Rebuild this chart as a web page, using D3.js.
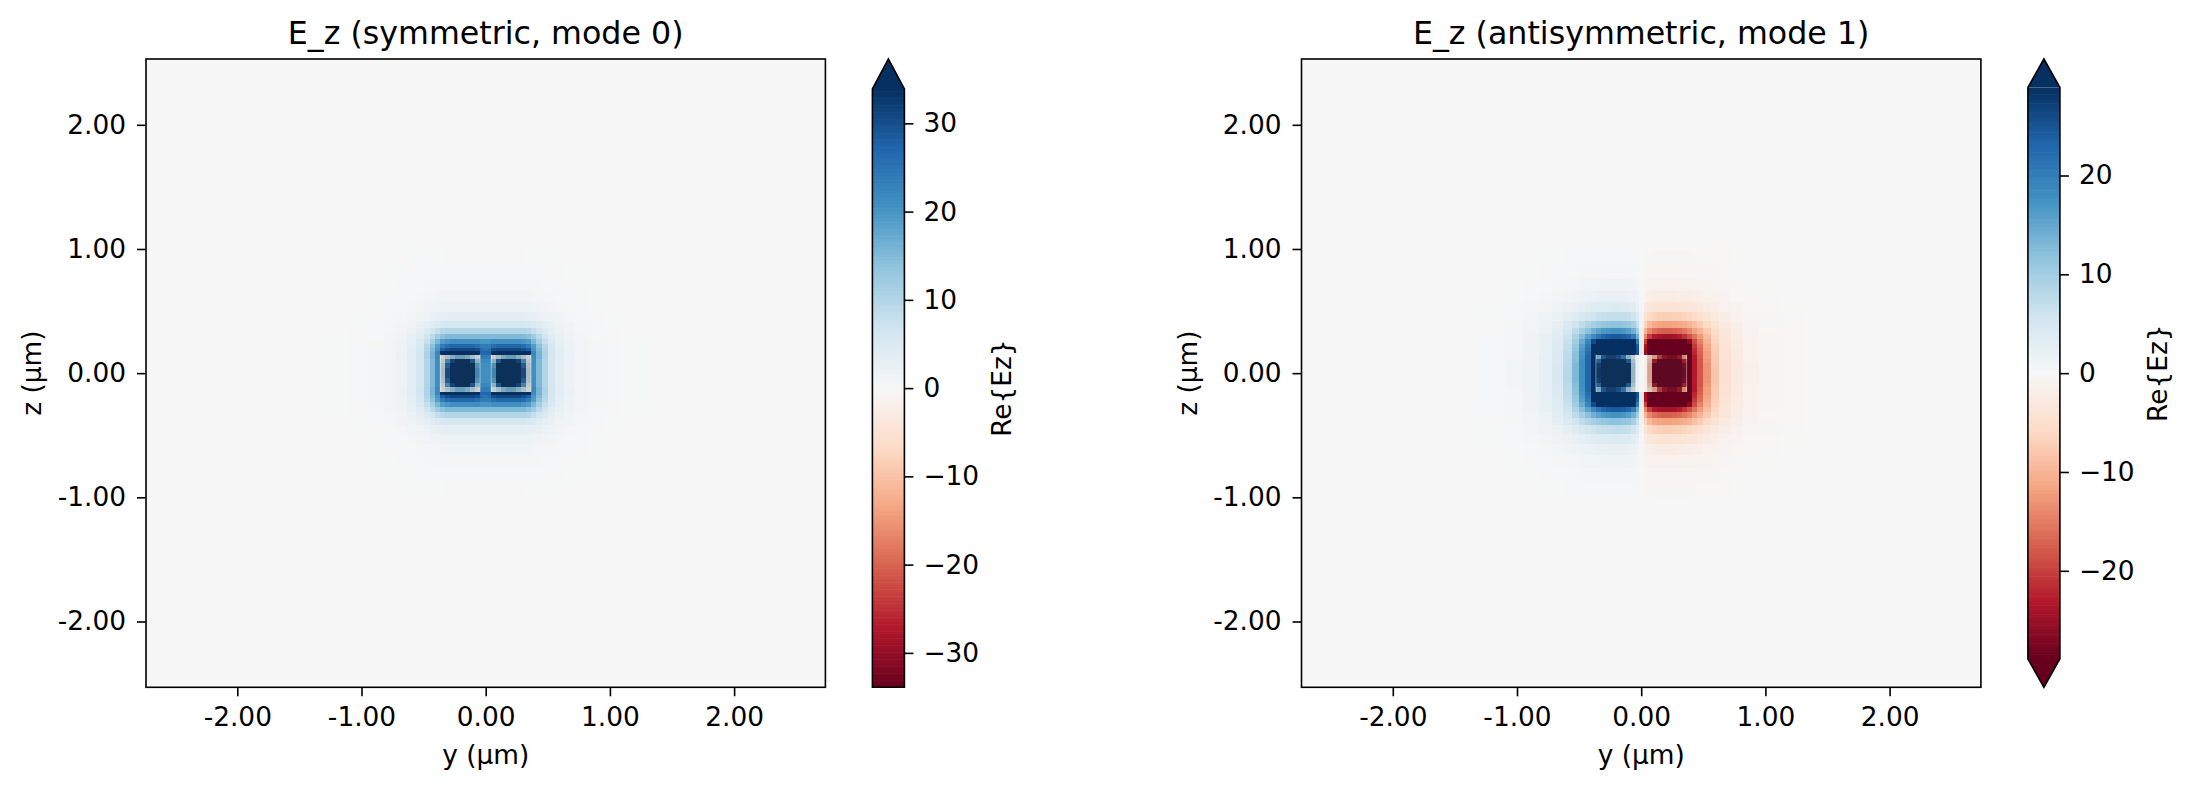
<!DOCTYPE html>
<html>
<head>
<meta charset="utf-8">
<script src="https://cdn.jsdelivr.net/npm/d3@7"></script>
<style>
  body { margin: 0; background: #fff; }
  text { font-family: "DejaVu Sans", sans-serif; fill: #000; }
</style>
</head>
<body>
<svg id="chart"></svg>
<script>
// grid cell edges of one quadrant (y >= 0, z >= 0), in µm
const yEdges = [0, 0.02, 0.045, 0.085, 0.125, 0.165, 0.205, 0.245, 0.285, 0.325, 0.365,
                0.405, 0.45, 0.5, 0.56, 0.63, 0.72, 0.82, 0.95, 1.1, 1.3];
const zEdges = [0, 0.04, 0.08, 0.115, 0.15, 0.175, 0.2, 0.235, 0.275, 0.315, 0.36,
                0.42, 0.49, 0.57, 0.66, 0.76, 0.88, 1.0];

// Re{Ez}, quadrant y >= 0, z >= 0 (rows = z cells, cols = y cells)
const mode0Quadrant = [
  [21, 21, 20, 40, 40, 40, 40, 40, 30, 9, 21, 15, 10, 6, 3.5, 2, 1.2, 0.6, 0.3, 0.15],
  [21, 21, 18, 38, 40, 40, 40, 38, 27, 8, 21, 15, 10, 6, 3.5, 2, 1.2, 0.6, 0.3, 0.15],
  [22, 22, 12, 28, 34, 36, 35, 31, 20, 5, 21, 15, 10, 6, 3.5, 2, 1.2, 0.6, 0.3, 0.15],
  [24, 24, 3, 9, 14, 16, 16, 13, 8, 2, 22, 16, 10.5, 6.3, 3.6, 2.1, 1.2, 0.6, 0.3, 0.15],
  [27, 27, 40, 40, 40, 40, 40, 40, 40, 38, 22, 16, 10.5, 6.3, 3.6, 2.1, 1.2, 0.6, 0.3, 0.15],
  [25, 26, 30, 31, 31, 31, 31, 31, 30, 28, 20, 15, 10, 6, 3.5, 2, 1.2, 0.6, 0.3, 0.15],
  [24, 24, 26, 27, 27, 27, 27, 27, 26, 24, 19, 14, 9.5, 5.8, 3.4, 2, 1.1, 0.55, 0.3, 0.12],
  [20, 20, 21, 21, 21, 21, 21, 21, 20, 19, 15.5, 11.5, 8, 5.2, 3.1, 1.8, 1, 0.5, 0.25, 0.1],
  [15, 15, 15, 15, 15, 15, 15, 15, 15, 14, 12, 9, 6.5, 4.3, 2.7, 1.6, 0.9, 0.45, 0.22, 0.1],
  [10, 10, 10, 10, 10, 10, 10, 10, 10, 9.5, 8.2, 6.6, 5, 3.4, 2.2, 1.3, 0.75, 0.4, 0.2, 0.08],
  [6, 6, 6, 6, 6, 6, 6, 6, 6, 5.8, 5.1, 4.3, 3.3, 2.4, 1.6, 1, 0.6, 0.3, 0.15, 0.06],
  [3.4, 3.4, 3.4, 3.4, 3.4, 3.4, 3.4, 3.4, 3.3, 3.2, 2.9, 2.5, 2, 1.5, 1.1, 0.7, 0.42, 0.22, 0.1, 0.04],
  [1.9, 1.9, 1.9, 1.9, 1.9, 1.9, 1.9, 1.9, 1.8, 1.8, 1.6, 1.4, 1.2, 0.9, 0.7, 0.45, 0.3, 0.15, 0.07, 0.03],
  [1.1, 1.1, 1.1, 1.1, 1.1, 1.1, 1.1, 1.1, 1, 1, 0.9, 0.8, 0.7, 0.55, 0.42, 0.3, 0.2, 0.1, 0.05, 0.02],
  [0.65, 0.65, 0.65, 0.65, 0.65, 0.65, 0.65, 0.65, 0.62, 0.6, 0.57, 0.52, 0.46, 0.39, 0.32, 0.25, 0.18, 0.11, 0.06, 0.02],
  [0.38, 0.38, 0.38, 0.38, 0.38, 0.38, 0.38, 0.37, 0.36, 0.35, 0.33, 0.3, 0.27, 0.23, 0.19, 0.15, 0.11, 0.07, 0.04, 0.01],
  [0.2, 0.2, 0.2, 0.2, 0.2, 0.2, 0.2, 0.2, 0.19, 0.18, 0.17, 0.16, 0.14, 0.12, 0.1, 0.08, 0.06, 0.04, 0.02, 0]
];

const mode1Quadrant = [
  [-0.5, -2, -9, -30, -40, -40, -40, -40, -40, -28, -35, -23, -18, -13, -8, -4.5, -2.6, -1.4, -0.7, -0.3],
  [-0.5, -2, -9, -29, -40, -40, -40, -40, -40, -27, -35, -23, -18, -13, -8, -4.5, -2.6, -1.4, -0.7, -0.3],
  [-0.5, -2, -7, -24, -36, -40, -40, -40, -38, -23, -35, -23, -18, -12.5, -7.8, -4.4, -2.5, -1.3, -0.7, -0.3],
  [-0.5, -2, -3, -10, -20, -25, -27, -27, -24, -12, -35, -23, -17.5, -12, -7.5, -4.3, -2.5, -1.3, -0.65, -0.3],
  [-4, -25, -40, -40, -40, -40, -40, -40, -40, -40, -35, -22, -17, -12, -7.5, -4.2, -2.4, -1.3, -0.65, -0.3],
  [-4, -25, -40, -40, -40, -40, -40, -40, -40, -40, -34, -21.5, -16.5, -11.5, -7.2, -4.1, -2.4, -1.3, -0.65, -0.3],
  [-4, -24, -38, -40, -40, -40, -40, -40, -40, -38, -31, -20.5, -16, -11, -7, -4, -2.3, -1.25, -0.6, -0.3],
  [-3.5, -20, -30, -36, -38, -38, -38, -38, -36, -32, -26, -19, -14.5, -10.2, -6.5, -3.8, -2.2, -1.2, -0.6, -0.28],
  [-3, -14, -20, -23, -24, -24.5, -24.5, -24, -23, -21, -18.5, -15.5, -12.5, -9, -6, -3.6, -2.1, -1.15, -0.55, -0.25],
  [-2.3, -10, -14, -16, -17, -17.5, -17.5, -17, -16.5, -15.5, -14, -12, -10, -7.5, -5.2, -3.2, -1.9, -1.05, -0.5, -0.22],
  [-1.6, -6.5, -9.5, -11, -11.5, -11.8, -11.8, -11.6, -11.2, -10.6, -9.8, -8.7, -7.4, -5.8, -4.2, -2.7, -1.6, -0.9, -0.45, -0.2],
  [-1, -4, -5.8, -6.6, -7, -7.2, -7.2, -7, -6.8, -6.5, -6, -5.4, -4.7, -3.8, -2.9, -1.9, -1.2, -0.7, -0.35, -0.15],
  [-0.6, -2.2, -3.3, -3.8, -4, -4.1, -4.1, -4, -3.9, -3.7, -3.5, -3.2, -2.8, -2.3, -1.8, -1.25, -0.8, -0.5, -0.25, -0.1],
  [-0.3, -1.2, -1.8, -2, -2.2, -2.25, -2.25, -2.2, -2.15, -2.05, -1.9, -1.75, -1.55, -1.3, -1.05, -0.75, -0.5, -0.3, -0.15, -0.06],
  [-0.17, -0.65, -1, -1.1, -1.2, -1.22, -1.22, -1.2, -1.17, -1.12, -1.05, -0.97, -0.87, -0.74, -0.6, -0.45, -0.3, -0.18, -0.09, -0.04],
  [-0.1, -0.35, -0.55, -0.6, -0.65, -0.66, -0.66, -0.65, -0.63, -0.6, -0.57, -0.53, -0.48, -0.41, -0.34, -0.26, -0.18, -0.11, -0.05, -0.02],
  [-0.05, -0.2, -0.3, -0.33, -0.35, -0.36, -0.36, -0.35, -0.34, -0.33, -0.31, -0.29, -0.26, -0.23, -0.19, -0.15, -0.1, -0.06, -0.03, -0.01]
];

// waveguide cross sections (µm)
const guidesY = [[-0.365, -0.045], [0.045, 0.365]];
const guideZ = [-0.15, 0.15];

const axisTicks = [-2, -1, 0, 1, 2];
const cbarTicks0 = [-30, -20, -10, 0, 10, 20, 30];
const cbarTicks1 = [-20, -10, 0, 10, 20];

const panels = [
  {title: 'E_z (symmetric, mode 0)', quad: mode0Quadrant, parity: 1, vmax: 33.9,
   extend: ['max'], cbTicks: cbarTicks0, left: 146},
  {title: 'E_z (antisymmetric, mode 1)', quad: mode1Quadrant, parity: -1, vmax: 28.9,
   extend: ['min', 'max'], cbTicks: cbarTicks1, left: 1301.5}
];

const W = 2192, H = 790;
const plotTop = 59, plotW = 679.4, plotH = 628.3;
const fs = 26.4;

// RdBu as a piecewise-linear map (like matplotlib), not the spline version
const rdbu = d3.piecewise(d3.interpolateRgb, d3.schemeRdBu[11]);

const svg = d3.select('#chart').attr('width', W).attr('height', H);

// mirror the quadrant into the full cross section
function expandQuadrant(quad, parity) {
  const cells = [];
  quad.forEach((row, i) => row.forEach((v, j) => {
    [1, -1].forEach(sy => [1, -1].forEach(sz => {
      cells.push({
        y0: sy > 0 ? yEdges[j] : -yEdges[j + 1],
        y1: sy > 0 ? yEdges[j + 1] : -yEdges[j],
        z0: sz > 0 ? zEdges[i] : -zEdges[i + 1],
        z1: sz > 0 ? zEdges[i + 1] : -zEdges[i],
        v: sy > 0 ? v : parity * v
      });
    }));
  }));
  return cells;
}

function styleAxis(g) {
  g.select('.domain').remove();
  g.selectAll('.tick line').attr('stroke', '#000').attr('stroke-width', 1.6);
  g.selectAll('.tick text').attr('font-size', fs).attr('font-family', '"DejaVu Sans", sans-serif').attr('fill', '#000');
}

panels.forEach((p, pi) => {
  const x = d3.scaleLinear().domain([-2.735, 2.735]).range([0, plotW]);
  const z = d3.scaleLinear().domain([-2.53, 2.53]).range([plotH, 0]);
  const color = d3.scaleSequential(rdbu).domain([-p.vmax, p.vmax]).clamp(true);

  const g = svg.append('g').attr('transform', `translate(${p.left},${plotTop})`);

  g.append('defs').append('clipPath').attr('id', 'clip' + pi)
    .append('rect').attr('width', plotW).attr('height', plotH);

  const field = g.append('g').attr('clip-path', `url(#clip${pi})`);
  field.append('rect')
    .attr('width', plotW).attr('height', plotH)
    .attr('fill', color(0));

  field.selectAll('.cell')
    .data(expandQuadrant(p.quad, p.parity))
    .join('rect')
    .attr('class', 'cell')
    .attr('x', d => x(d.y0))
    .attr('width', d => x(d.y1) - x(d.y0))
    .attr('y', d => z(d.z1))
    .attr('height', d => z(d.z0) - z(d.z1))
    .attr('fill', d => color(d.v))
    .attr('shape-rendering', 'crispEdges');

  // structure overlay
  field.selectAll('.guide')
    .data(guidesY)
    .join('rect')
    .attr('class', 'guide')
    .attr('x', d => x(d[0]))
    .attr('width', d => x(d[1]) - x(d[0]))
    .attr('y', z(guideZ[1]))
    .attr('height', z(guideZ[0]) - z(guideZ[1]))
    .attr('fill', '#303030')
    .attr('opacity', 0.18);

  field.selectAll('.guide-edge')
    .data(guidesY.flat())
    .join('line')
    .attr('class', 'guide-edge')
    .attr('x1', d => x(d)).attr('x2', d => x(d))
    .attr('y1', z(guideZ[1])).attr('y2', z(guideZ[0]))
    .attr('stroke', '#fff').attr('stroke-opacity', 0.35).attr('stroke-width', 1.2);

  g.append('rect')
    .attr('width', plotW).attr('height', plotH)
    .attr('fill', 'none').attr('stroke', '#000').attr('stroke-width', 1.6);

  g.append('g').attr('transform', `translate(0,${plotH})`)
    .call(d3.axisBottom(x).tickValues(axisTicks).tickSize(9).tickPadding(11)
      .tickFormat(d => d.toFixed(2)))
    .call(styleAxis);

  g.append('g')
    .call(d3.axisLeft(z).tickValues(axisTicks).tickSize(9).tickPadding(11)
      .tickFormat(d => d.toFixed(2)))
    .call(styleAxis);

  g.append('text')
    .attr('x', plotW / 2).attr('y', 44 - plotTop)
    .attr('text-anchor', 'middle').attr('font-size', 31.7)
    .text(p.title);

  g.append('text')
    .attr('x', plotW / 2).attr('y', 764 - plotTop)
    .attr('text-anchor', 'middle').attr('font-size', fs)
    .text('y (µm)');

  g.append('text')
    .attr('transform', `translate(-114,${plotH / 2}) rotate(-90)`)
    .attr('dy', '0.35em')
    .attr('text-anchor', 'middle').attr('font-size', fs)
    .text('z (µm)');

  // colorbar
  const cbX = p.left + plotW + 47, cbW = 32;
  const bodyLen = plotH / (1 + 0.05 * p.extend.length);
  const ext = 0.05 * bodyLen;
  const bodyTop = plotTop + (p.extend.includes('max') ? ext : 0);
  const bodyBot = bodyTop + bodyLen;
  const cbScale = d3.scaleLinear().domain([-p.vmax, p.vmax]).range([bodyBot, bodyTop]);

  const cb = svg.append('g').attr('transform', `translate(${cbX},0)`);
  const nSteps = 256;
  const step = 2 * p.vmax / nSteps;
  cb.selectAll('.cbstep')
    .data(d3.range(nSteps).map(k => -p.vmax + k * step))
    .join('rect')
    .attr('class', 'cbstep')
    .attr('x', 0).attr('width', cbW)
    .attr('y', d => cbScale(d + step))
    .attr('height', d => cbScale(d) - cbScale(d + step) + 0.6)
    .attr('fill', d => color(d + step / 2));

  let outline = `M0,${bodyBot}`;
  if (p.extend.includes('min')) {
    cb.append('path')
      .attr('d', `M0,${bodyBot}L${cbW / 2},${bodyBot + ext}L${cbW},${bodyBot}Z`)
      .attr('fill', color(-p.vmax));
    outline += `L${cbW / 2},${bodyBot + ext}L${cbW},${bodyBot}`;
  } else {
    outline += `L${cbW},${bodyBot}`;
  }
  if (p.extend.includes('max')) {
    cb.append('path')
      .attr('d', `M0,${bodyTop}L${cbW / 2},${bodyTop - ext}L${cbW},${bodyTop}Z`)
      .attr('fill', color(p.vmax));
    outline += `L${cbW},${bodyTop}L${cbW / 2},${bodyTop - ext}L0,${bodyTop}Z`;
  } else {
    outline += `L${cbW},${bodyTop}L0,${bodyTop}Z`;
  }
  cb.append('path').attr('d', outline)
    .attr('fill', 'none').attr('stroke', '#000').attr('stroke-width', 1.6)
    .attr('stroke-linejoin', 'miter');

  cb.append('g').attr('transform', `translate(${cbW},0)`)
    .call(d3.axisRight(cbScale).tickValues(p.cbTicks).tickSize(9).tickPadding(10)
      .tickFormat(d3.format('d')))
    .call(styleAxis);

  cb.append('text')
    .attr('transform', `translate(129.5,${(bodyTop + bodyBot) / 2}) rotate(-90)`)
    .attr('dy', '0.35em')
    .attr('text-anchor', 'middle').attr('font-size', fs)
    .text('Re{Ez}');
});
</script>
</body>
</html>
